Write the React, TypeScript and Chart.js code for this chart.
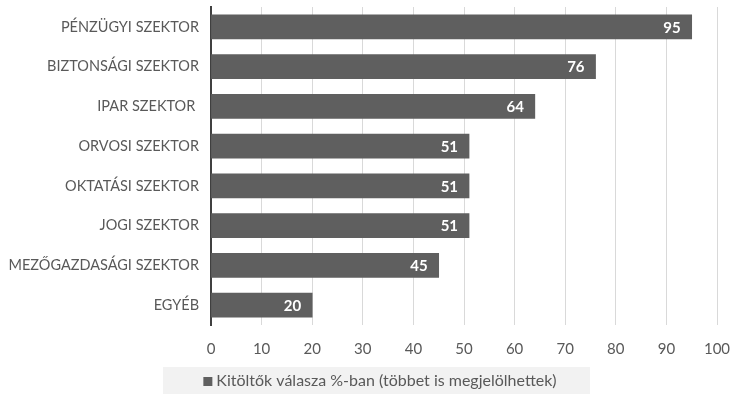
import React, { useEffect, useRef } from "react";
import { Chart, registerables } from "chart.js";

Chart.register(...registerables);

const categories = [
  "PÉNZÜGYI SZEKTOR",
  "BIZTONSÁGI SZEKTOR",
  "IPAR SZEKTOR ",
  "ORVOSI SZEKTOR",
  "OKTATÁSI SZEKTOR",
  "JOGI SZEKTOR",
  "MEZŐGAZDASÁGI SZEKTOR",
  "EGYÉB",
];
const values = [95, 76, 64, 51, 51, 51, 45, 20];
const seriesName = "Kitöltők válasza %-ban (többet is megjelölhettek)";
const xMin = 0;
const xMax = 100;
const xStep = 10;

const FONT = "Lato, 'Open Sans', sans-serif";
const TEXT = "#595959";
const BAR = "#5f5f5f";

const labelPlugin = {
  id: "barLabels",
  afterDatasetsDraw(chart: any) {
    const ctx = chart.ctx;
    const meta = chart.getDatasetMeta(0);
    ctx.save();
    ctx.fillStyle = "#ffffff";
    ctx.font = `bold 15px ${FONT}`;
    ctx.textAlign = "right";
    ctx.textBaseline = "middle";
    meta.data.forEach((el: any, i: number) => {
      ctx.fillText(String(values[i]), el.x - 11, el.y + 1);
    });
    ctx.restore();
  },
};

const legendPlugin = {
  id: "customLegend",
  afterDraw(chart: any) {
    const ctx = chart.ctx;
    ctx.save();
    ctx.fillStyle = "#f2f2f2";
    ctx.fillRect(163, 367, 427, 27);
    ctx.font = `16px ${FONT}`;
    const tw = ctx.measureText(seriesName).width;
    const total = 9 + 4 + tw;
    const cx = 380;
    const x0 = cx - total / 2;
    ctx.fillStyle = BAR;
    ctx.fillRect(x0, 377, 9, 9);
    ctx.fillStyle = TEXT;
    ctx.textAlign = "left";
    ctx.textBaseline = "middle";
    ctx.fillText(seriesName, x0 + 13, 381);
    ctx.restore();
  },
};

export default function App() {
  const ref = useRef<HTMLCanvasElement>(null);
  useEffect(() => {
    document.body.style.margin = "0";
    const chart = new Chart(ref.current!, {
      type: "bar",
      data: {
        labels: categories,
        datasets: [
          {
            label: seriesName,
            data: values,
            backgroundColor: BAR,
            borderWidth: 0,
            barThickness: 24,
          },
        ],
      },
      options: {
        indexAxis: "y",
        responsive: false,
        animation: false,
        layout: { padding: { top: 7, right: 18, bottom: 30, left: 0 } },
        plugins: {
          legend: { display: false },
          tooltip: { enabled: false },
        },
        scales: {
          x: {
            min: xMin,
            max: xMax,
            ticks: {
              stepSize: xStep,
              color: TEXT,
              font: { family: FONT, size: 15 },
              padding: 15,
            },
            grid: { color: "#d9d9d9", drawTicks: false, lineWidth: 1 },
            border: { display: false },
            afterFit(scale: any) {
              scale.height = 40;
              scale.paddingLeft = 0;
              scale.paddingRight = 0;
            },
          },
          y: {
            ticks: {
              color: TEXT,
              font: { family: FONT, size: 14.5 },
              padding: 12,
            },
            grid: { display: false, drawTicks: false },
            border: { display: true, color: "#404040", width: 2 },
            afterFit(scale: any) {
              scale.width = 211;
              scale.paddingTop = 0;
              scale.paddingBottom = 0;
            },
          },
        },
      },
      plugins: [labelPlugin, legendPlugin],
    });
    return () => chart.destroy();
  }, []);
  return <canvas ref={ref} width={735} height={395} style={{ display: "block" }} />;
}
